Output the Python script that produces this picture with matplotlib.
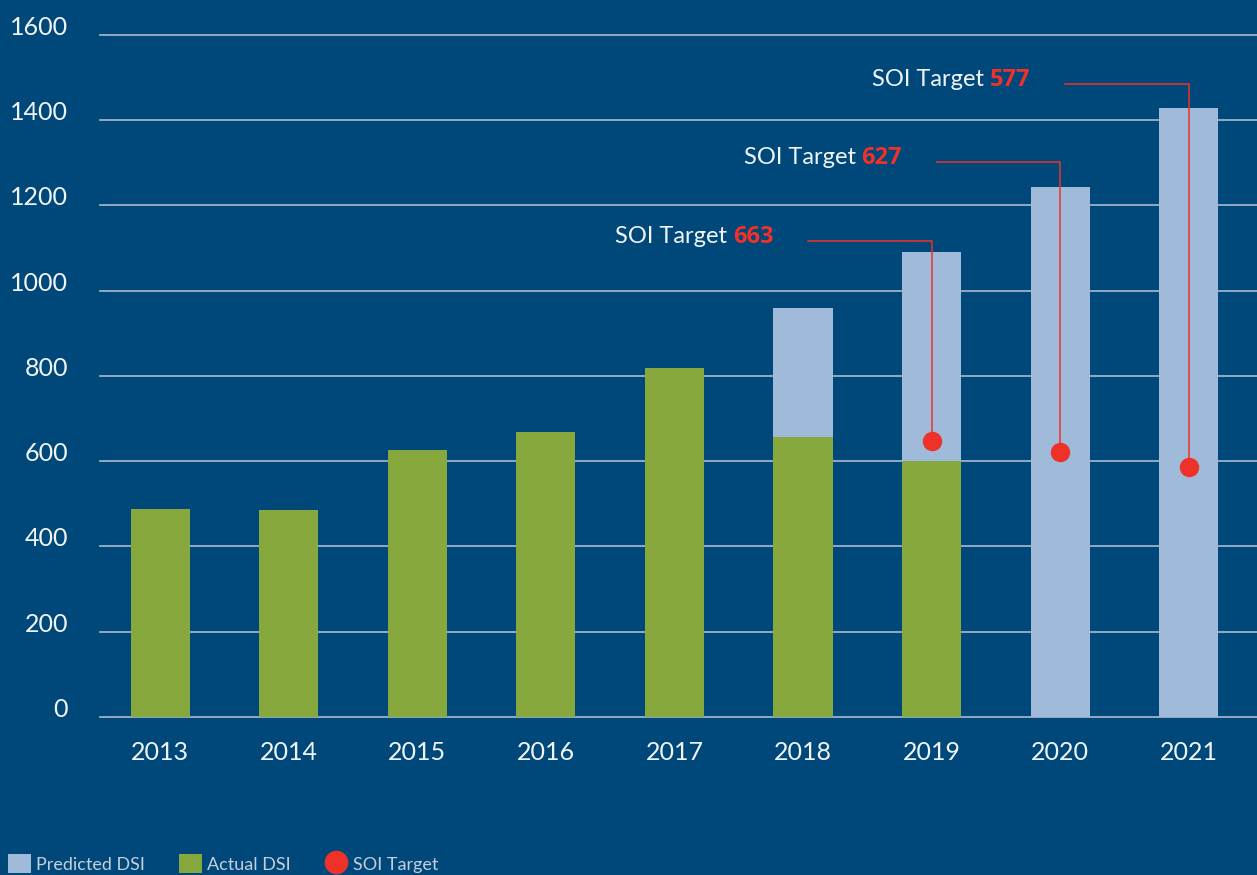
import matplotlib
matplotlib.use("Agg")
import matplotlib.pyplot as plt
import numpy as np
from matplotlib.patches import Patch
from matplotlib.lines import Line2D

years = ["2013", "2014", "2015", "2016", "2017", "2018", "2019", "2020", "2021"]
predicted_dsi = [np.nan, np.nan, np.nan, np.nan, np.nan, 960, 1091, 1243, 1429]
actual_dsi = [488, 486, 626, 669, 819, 657, 601, np.nan, np.nan]
target_years = ["2019", "2020", "2021"]
target_dots = [648, 622, 587]
target_labels = ["663", "627", "577"]

BG = "#004879"
GREEN = "#87a83d"
LIGHT = "#a0bbd9"
RED = "#ee3129"
GRID = "#9fb2c6"
TEXT = "#f2f5f8"

plt.rcParams["font.family"] = ["Lato", "DejaVu Sans"]

fig = plt.figure(figsize=(12.57, 8.75), dpi=100, facecolor=BG)
ax = fig.add_axes([0.0796, 0.1806, 0.9204, 0.7794])
ax.set_facecolor(BG)

x = np.arange(len(years))
width = 0.46
ax.bar(x, predicted_dsi, width, color=LIGHT, zorder=2)
ax.bar(x, actual_dsi, width, color=GREEN, zorder=3)

# SOI target dots, leader lines and labels
label_heights = [1117, 1302, 1485]
for yr, val, lab, ly in zip(target_years, target_dots, target_labels, label_heights):
    xi = years.index(yr)
    ax.plot([xi - 0.96, xi, xi], [ly, ly, val], color=RED, lw=1.1, zorder=4)
    ax.plot(xi, val, "o", color=RED, ms=13, zorder=5)
    num = ax.text(xi - 1.23, ly + 10, lab, color=RED, fontsize=17, fontweight="bold",
                  family=["Open Sans", "DejaVu Sans"], ha="right", va="center")
    ax.annotate("SOI Target ", xy=(0, 0.5), xycoords=num, color=TEXT, fontsize=17,
                ha="right", va="center")

ax.set_xlim(-0.467, 8.53)
ax.set_ylim(0, 1600)
ax.set_yticks(np.arange(0, 1601, 200))
ax.set_xticks(x)
ax.set_xticklabels(years)
ax.tick_params(axis="both", length=0, labelsize=18, labelcolor=TEXT)
ax.tick_params(axis="y", pad=23)
ax.tick_params(axis="x", pad=17)
for lbl in ax.get_yticklabels():
    lbl.set_va("baseline")
ax.grid(axis="y", color=GRID, lw=1.3, zorder=1, clip_on=False)
ax.set_axisbelow(True)
for s in ax.spines.values():
    s.set_visible(False)

handles = [
    Patch(facecolor=LIGHT, edgecolor="none"),
    Patch(facecolor=GREEN, edgecolor="none"),
    Line2D([], [], marker="o", color=RED, ls="none", ms=16),
]
fig.legend(handles, ["Predicted DSI", "Actual DSI", "SOI Target"], loc="lower left",
           bbox_to_anchor=(0.005, 0.0), ncol=3, frameon=False, fontsize=13,
           labelcolor="#c5cfdb", handlelength=1.25, handleheight=1.25,
           handletextpad=0.3, columnspacing=1.9, borderaxespad=0, borderpad=0.1)

fig.savefig("out.png", dpi=100, facecolor=BG)
